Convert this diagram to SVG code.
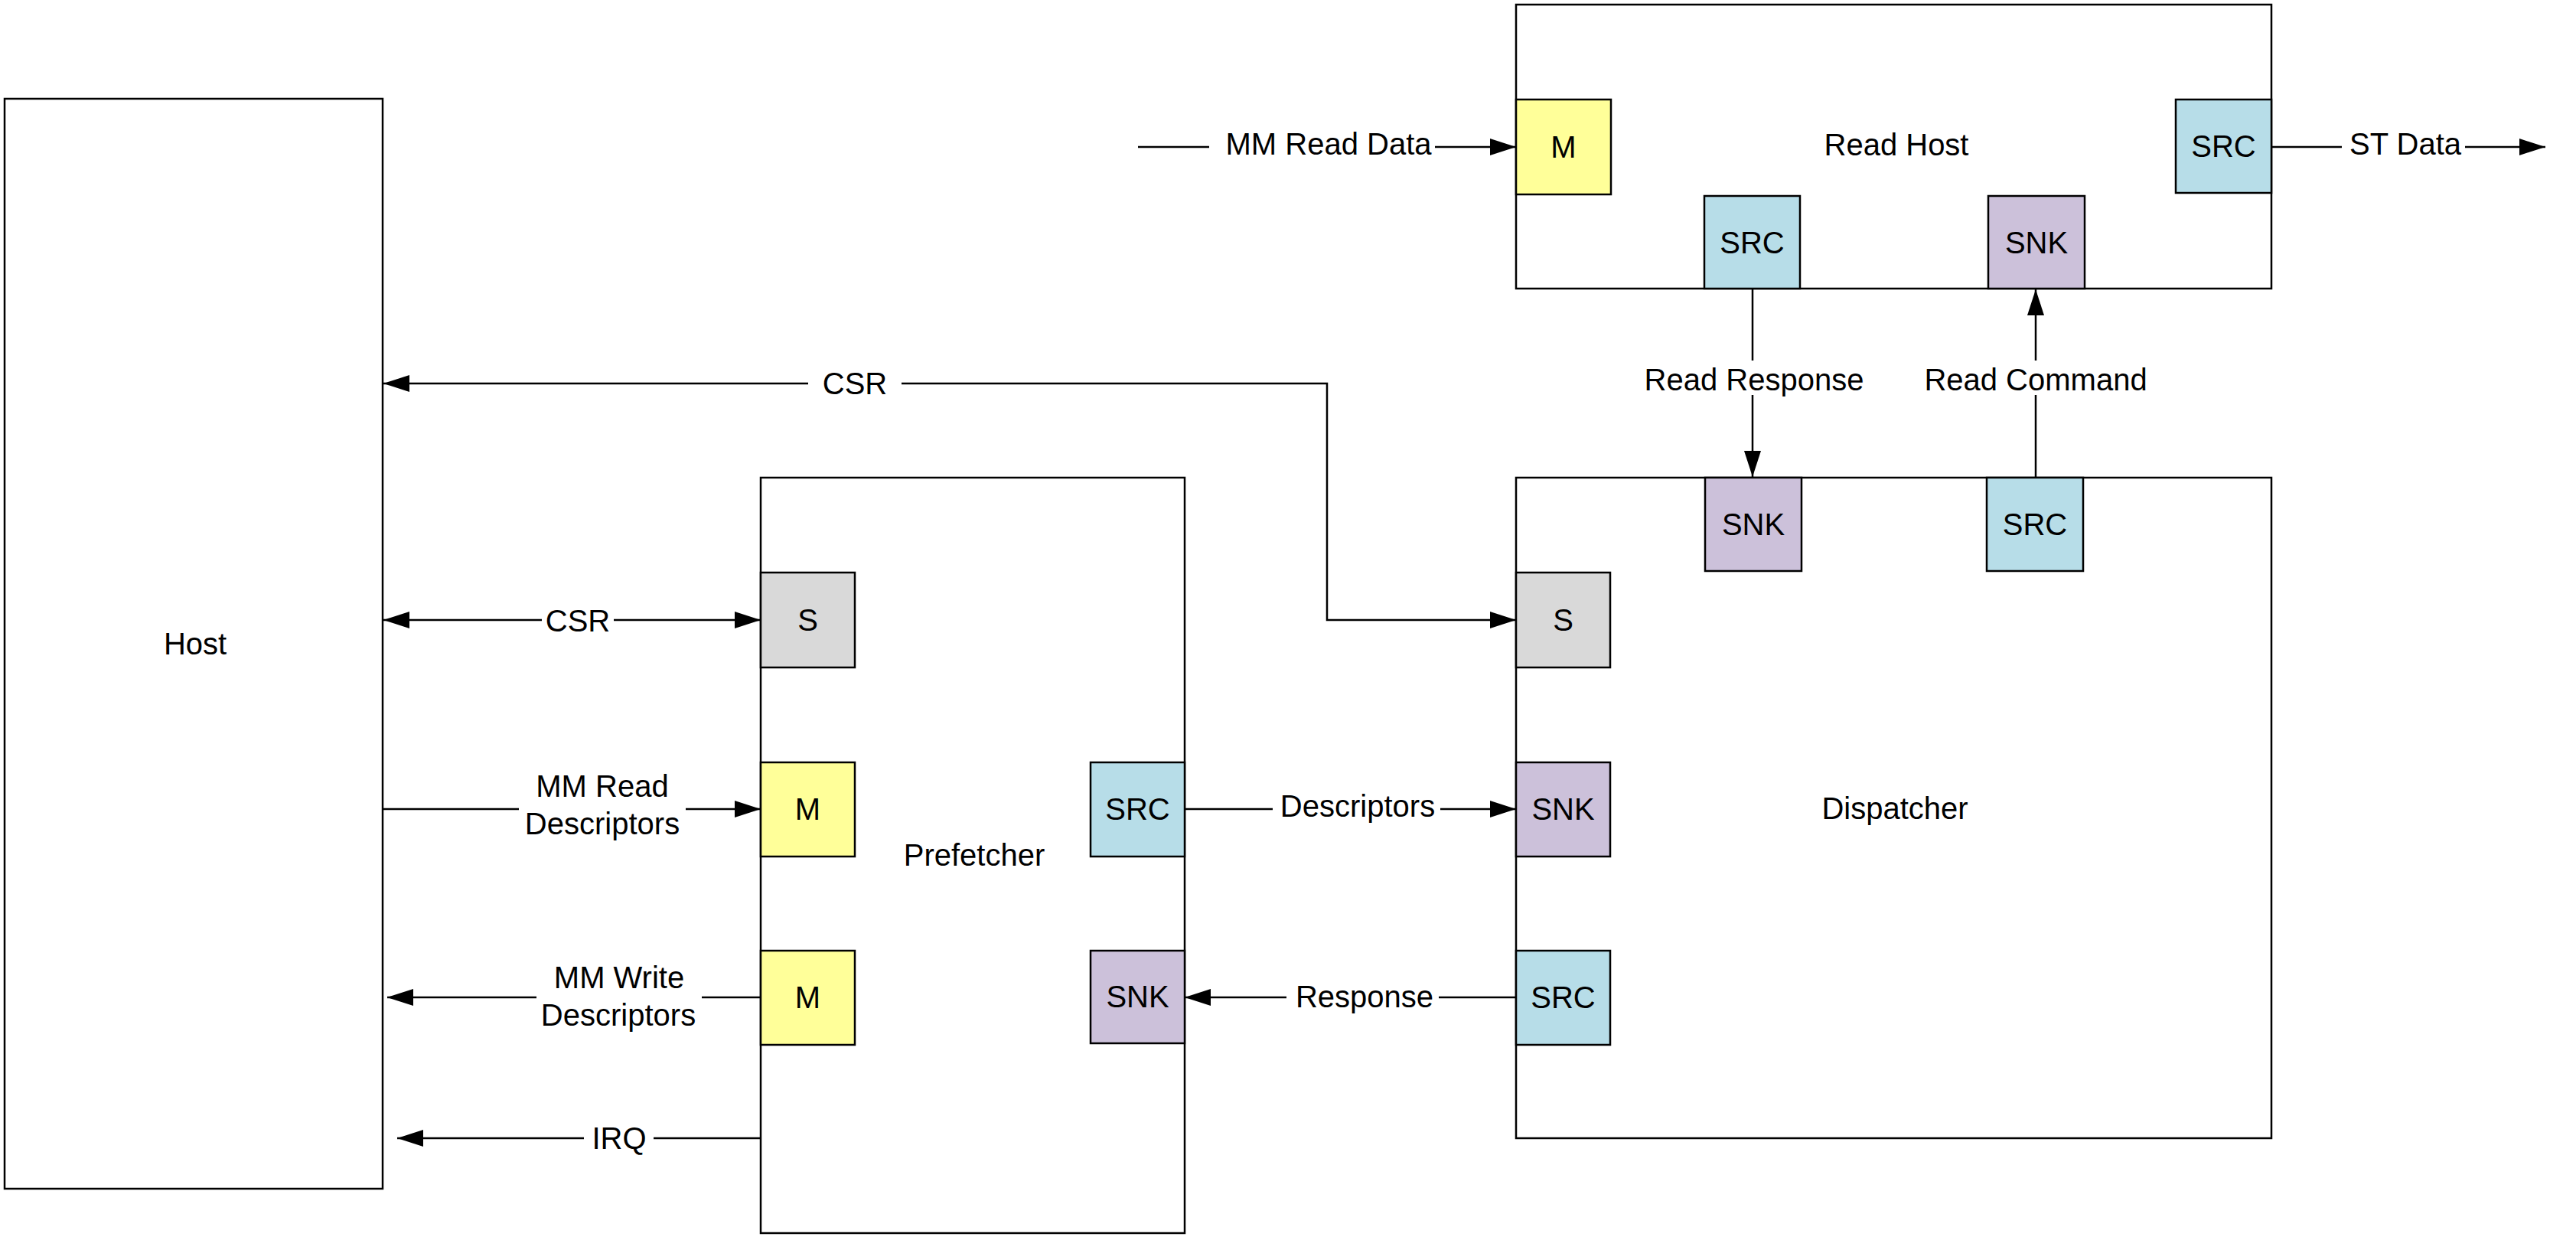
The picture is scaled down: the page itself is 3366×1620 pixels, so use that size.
<svg xmlns="http://www.w3.org/2000/svg" width="3366" height="1620" viewBox="0 0 3366 1620">
<style>
.blk{fill:#ffffff;stroke:#000;stroke-width:2.5}
.m{fill:#ffff99;stroke:#000;stroke-width:2.5}
.src{fill:#b7dde8;stroke:#000;stroke-width:2.5}
.snk{fill:#ccc1da;stroke:#000;stroke-width:2.5}
.s{fill:#d9d9d9;stroke:#000;stroke-width:2.5}
text{font-family:"Liberation Sans",Arial,sans-serif;font-size:40px;fill:#000;text-anchor:middle}
.ln{fill:none;stroke:#000;stroke-width:2.5}
.ar{fill:none;stroke:#000;stroke-width:2.5;marker-end:url(#arr)}
</style>
<defs>
<marker id="arr" markerWidth="34" markerHeight="22" refX="34" refY="11" orient="auto" markerUnits="userSpaceOnUse">
<path d="M0,0 L34,11 L0,22 z" fill="#000"/>
</marker>
</defs>
<rect width="3366" height="1620" fill="#ffffff"/>

<g id="host">
<rect class="blk" x="6" y="129" width="494" height="1424"/>
<text x="255" y="855">Host</text>
</g>

<g id="read-host">
<rect class="blk" x="1981" y="6" width="987" height="371"/>
<text x="2478" y="203">Read Host</text>
<g id="rh-m"><rect class="m" x="1981" y="130" width="124" height="124"/><text x="2043" y="206">M</text></g>
<g id="rh-src"><rect class="src" x="2227" y="256" width="125" height="121"/><text x="2289.5" y="331">SRC</text></g>
<g id="rh-snk"><rect class="snk" x="2598" y="256" width="126" height="121"/><text x="2661" y="331">SNK</text></g>
<g id="rh-src-out"><rect class="src" x="2843" y="130" width="125" height="122"/><text x="2905.5" y="205">SRC</text></g>
</g>

<g id="prefetcher">
<rect class="blk" x="994" y="624" width="554" height="987"/>
<text x="1273" y="1131">Prefetcher</text>
<g id="p-s"><rect class="s" x="994" y="748" width="123" height="124"/><text x="1055.5" y="824">S</text></g>
<g id="p-m-read"><rect class="m" x="994" y="996" width="123" height="123"/><text x="1055.5" y="1071">M</text></g>
<g id="p-m-write"><rect class="m" x="994" y="1242" width="123" height="123"/><text x="1055.5" y="1317">M</text></g>
<g id="p-src"><rect class="src" x="1425" y="996" width="123" height="123"/><text x="1486.5" y="1071">SRC</text></g>
<g id="p-snk"><rect class="snk" x="1425" y="1242" width="123" height="121"/><text x="1486.5" y="1316">SNK</text></g>
</g>

<g id="dispatcher">
<rect class="blk" x="1981" y="624" width="987" height="863"/>
<text x="2476" y="1070">Dispatcher</text>
<g id="d-snk-top"><rect class="snk" x="2228" y="624" width="126" height="122"/><text x="2291" y="699">SNK</text></g>
<g id="d-src-top"><rect class="src" x="2596" y="624" width="126" height="122"/><text x="2659" y="699">SRC</text></g>
<g id="d-s"><rect class="s" x="1981" y="748" width="123" height="124"/><text x="2042.5" y="824">S</text></g>
<g id="d-snk"><rect class="snk" x="1981" y="996" width="123" height="123"/><text x="2042.5" y="1071">SNK</text></g>
<g id="d-src"><rect class="src" x="1981" y="1242" width="123" height="123"/><text x="2042.5" y="1317">SRC</text></g>
</g>

<g id="connectors">
<!-- MM Read Data -->
<line class="ln" x1="1487" y1="192" x2="1580" y2="192"/>
<line class="ar" x1="1875" y1="192" x2="1981" y2="192"/>
<text x="1736" y="202">MM Read Data</text>
<!-- ST Data -->
<line class="ln" x1="2968" y1="192" x2="3060" y2="192"/>
<line class="ar" x1="3221" y1="192" x2="3326" y2="192"/>
<text x="3143" y="202">ST Data</text>
<!-- Read Response -->
<line class="ln" x1="2290" y1="377" x2="2290" y2="471"/>
<line class="ar" x1="2290" y1="516" x2="2290" y2="623"/>
<text x="2292" y="510">Read Response</text>
<!-- Read Command -->
<line class="ln" x1="2660" y1="624" x2="2660" y2="516"/>
<line class="ar" x1="2660" y1="471" x2="2660" y2="378"/>
<text x="2660" y="510">Read Command</text>
<!-- CSR top -->
<line class="ar" x1="1056" y1="501" x2="501" y2="501"/>
<path class="ar" d="M1178,501 H1734 V810 H1981"/>
<text x="1117" y="515">CSR</text>
<!-- CSR prefetcher -->
<line class="ar" x1="708" y1="810" x2="501" y2="810"/>
<line class="ar" x1="802" y1="810" x2="994" y2="810"/>
<text x="755" y="825">CSR</text>
<!-- MM Read Descriptors -->
<line class="ln" x1="501" y1="1057" x2="678" y2="1057"/>
<line class="ar" x1="896" y1="1057" x2="994" y2="1057"/>
<text x="787" y="1041">MM Read</text>
<text x="787" y="1090">Descriptors</text>
<!-- MM Write Descriptors -->
<line class="ln" x1="994" y1="1303" x2="917" y2="1303"/>
<line class="ar" x1="701" y1="1303" x2="506" y2="1303"/>
<text x="809" y="1291">MM Write</text>
<text x="808" y="1340">Descriptors</text>
<!-- IRQ -->
<line class="ln" x1="994" y1="1487" x2="854" y2="1487"/>
<line class="ar" x1="763" y1="1487" x2="519" y2="1487"/>
<text x="809" y="1501">IRQ</text>
<!-- Descriptors -->
<line class="ln" x1="1548" y1="1057" x2="1663" y2="1057"/>
<line class="ar" x1="1882" y1="1057" x2="1981" y2="1057"/>
<text x="1774" y="1067">Descriptors</text>
<!-- Response -->
<line class="ln" x1="1981" y1="1303" x2="1880" y2="1303"/>
<line class="ar" x1="1681" y1="1303" x2="1548" y2="1303"/>
<text x="1783" y="1316">Response</text>
</g>
</svg>
